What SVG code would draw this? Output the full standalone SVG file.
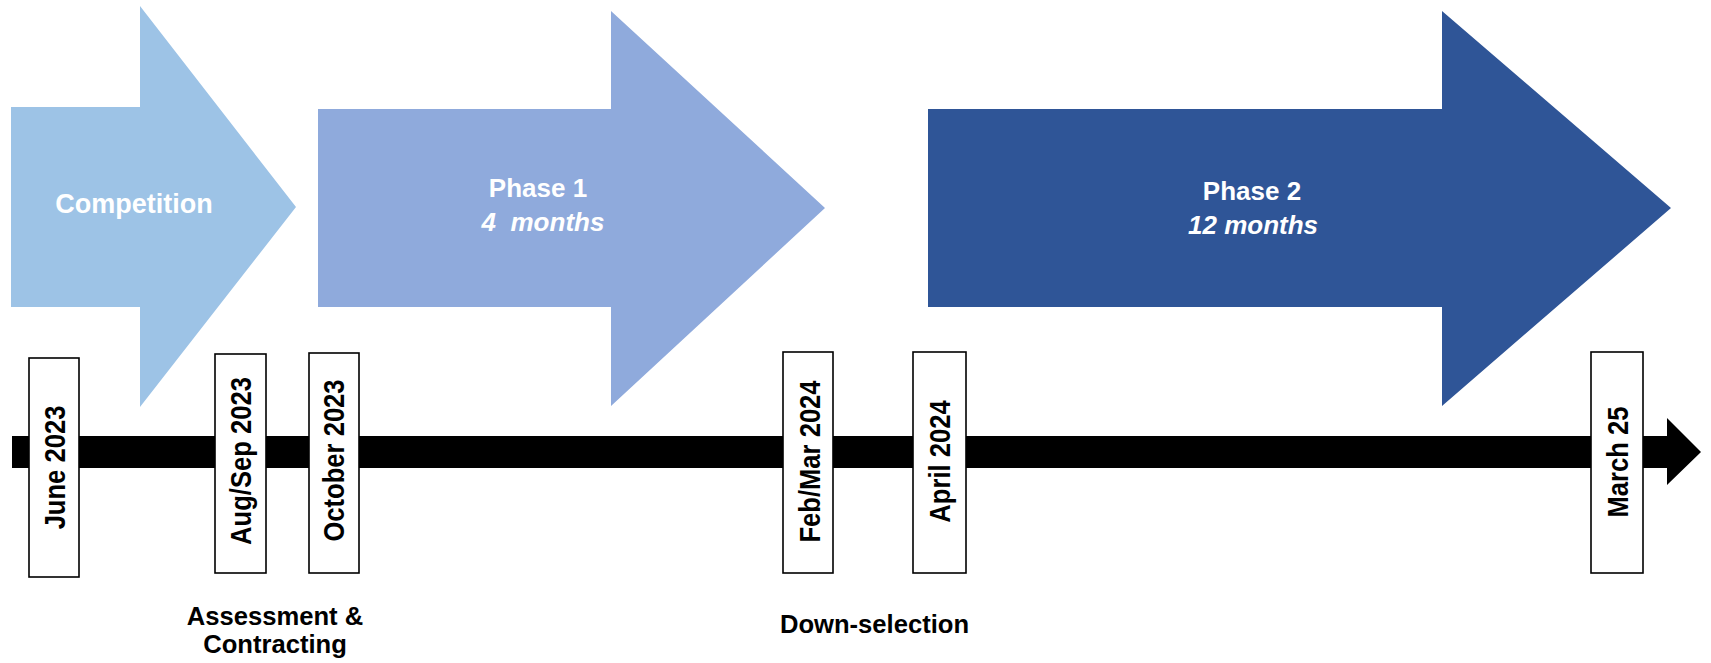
<svg xmlns="http://www.w3.org/2000/svg" width="1711" height="663" viewBox="0 0 1711 663">
<style>
.wt{font-family:"Liberation Sans",Arial,sans-serif;font-weight:bold;font-size:26px;fill:#ffffff;text-anchor:middle}
.it{font-style:italic}
.lbl{font-family:"Liberation Sans",Arial,sans-serif;font-weight:bold;font-size:25.6px;fill:#000000;text-anchor:middle}
.box{fill:#ffffff;stroke:#000000;stroke-width:1.6}
.dt{font-family:"Liberation Sans",Arial,sans-serif;font-weight:bold;font-size:25.6px;fill:#000000;text-anchor:middle}
</style>
<rect width="1711" height="663" fill="#ffffff"/>
<g id="competition">
<polygon points="11,107 140,107 140,6 296,207 140,407 140,307 11,307" fill="#9DC3E6"/>
<text class="wt" x="134" y="213" style="font-size:27px">Competition</text>
</g>
<g id="phase1">
<polygon points="318,109 611,109 611,11 825,208 611,406 611,307 318,307" fill="#8FAADC"/>
<text class="wt" x="538" y="197">Phase 1</text>
<text class="wt it" x="543" y="231" xml:space="preserve">4  months</text>
</g>
<g id="phase2">
<polygon points="928,109 1442,109 1442,11 1671,208 1442,406 1442,307 928,307" fill="#2F5597"/>
<text class="wt" x="1252" y="200">Phase 2</text>
<text class="wt it" x="1253" y="234">12 months</text>
</g>
<g id="connectors">
<polygon points="12,436 1667,436 1667,418 1701,452 1667,485 1667,468 12,468" fill="#000000"/>
</g>
<g id="june2023">
<rect class="box" x="29" y="358" width="50" height="219"/>
<text class="dt" transform="translate(65,467.5) rotate(-90) scale(1,1.18)">June 2023</text>
</g>
<g id="augsep2023">
<rect class="box" x="215" y="354" width="51" height="219"/>
<text class="dt" transform="translate(251,461) rotate(-90) scale(1,1.18)">Aug/Sep 2023</text>
</g>
<g id="october2023">
<rect class="box" x="309" y="353" width="50" height="220"/>
<text class="dt" transform="translate(344,460.5) rotate(-90) scale(1,1.18)">October 2023</text>
</g>
<g id="febmar2024">
<rect class="box" x="783" y="352" width="50" height="221"/>
<text class="dt" transform="translate(820,461.5) rotate(-90) scale(1,1.18)">Feb/Mar 2024</text>
</g>
<g id="april2024">
<rect class="box" x="913" y="352" width="53" height="221"/>
<text class="dt" transform="translate(950,461.5) rotate(-90) scale(1,1.18)">April 2024</text>
</g>
<g id="march25">
<rect class="box" x="1591" y="352" width="52" height="221"/>
<text class="dt" transform="translate(1628,462) rotate(-90) scale(1,1.18)">March 25</text>
</g>
<g id="assessment">
<text class="lbl" x="275" y="625">Assessment &amp;</text>
<text class="lbl" x="275" y="653">Contracting</text>
</g>
<g id="downselection">
<text class="lbl" x="874.5" y="633">Down-selection</text>
</g>
</svg>
